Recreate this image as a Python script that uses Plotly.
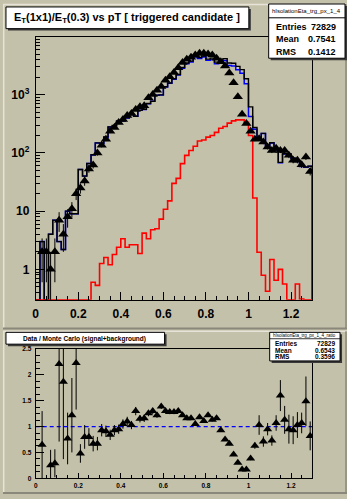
import plotly.graph_objects as go
import numpy as np

W, H = 347, 499

# ---------------- data (65 bins of width 0.02 from 0 to 1.3) ----------------
bin_edges = np.round(np.linspace(0.0, 1.3, 66), 4)
bin_centers = (bin_edges[:-1] + bin_edges[1:]) / 2

data_counts = [0, 2, 2, 1, 2, 7, 4, 8, 11, 20,
               25, 33, 53, 62, 100, 136, 172, 235, 275, 335,
               375, 440, 475, 557, 625, 650, 890, 1005, 1200, 1380,
               1780, 2030, 2400, 2900, 3580, 4070, 4390, 4800, 5150, 5150,
               5000, 4800, 4220, 3700, 3130, 2360, 1600, 920, 460, 320,
               235, 172, 175, 154, 126, 110, 121, 110, 110, 91,
               75, 75, 63, 85, 48]
data_err = [0, 1.4, 1.4, 1.0, 1.4, 2.6, 2.0, 2.8, 3.3, 4.5,
            5.0, 5.7, 7.3, 7.9, 10, 11.7, 13.1, 15.3, 16.6, 18.3,
            19.4, 21, 21.8, 23.6, 25, 25.5, 29.8, 31.7, 34.6, 37.1,
            42.2, 45, 49, 53.9, 59.8, 63.8, 66.3, 69.3, 71.8, 71.8,
            70.7, 69.3, 65, 60.8, 55.9, 48.6, 40, 30.3, 21.4, 17.9,
            15.3, 13.1, 13.2, 12.4, 11.2, 10.5, 11, 10.5, 10.5, 9.5,
            8.7, 8.7, 7.9, 9.2, 6.9]
mc_total = [0, 3, 0, 4, 7, 3, 2.2, 10, 9, 9,
            52, 40, 66, 93, 149, 146, 189, 280, 296, 353,
            357, 400, 461, 428, 543, 560, 706, 775, 985, 995,
            1370, 1590, 1880, 2230, 2930, 3510, 3780, 4570, 4360, 4640,
            4100, 4250, 3640, 3980, 4170, 3520, 3480, 3070, 2700, 1880,
            620, 273, 170, 217, 133, 150, 113, 69, 97, 96,
            81, 73, 59, 57, 59]
mc_background = [0, 0, 0, 0, 0, 0, 0, 0, 0, 0,
                 0, 0, 0, 0.6, 0.53, 1.26, 1.6, 1.2, 1.8, 2.4,
                 3.35, 2.4, 2.65, 2.65, 1.87, 4.2, 3.35, 4.8, 5.0, 7.3,
                 10.8, 15, 30, 36.6, 65.5, 91, 110, 130, 160, 167,
                 187, 199, 226, 265, 285, 325, 355, 370, 370, 335,
                 199, 16.8, 1.97, 0.79, 0.42, 1.48, 0.65, 1.0, 0.56, 0,
                 0, 0.56, 0.31, 0, 0]
mc_signal = [0, 3, 0, 4, 7, 3, 2.2, 10, 9, 9,
             52, 40, 66, 92, 148, 145, 187, 279, 294, 351,
             354, 398, 458, 425, 541, 556, 703, 770, 980, 988,
             1359, 1575, 1850, 2193, 2865, 3419, 3670, 4440, 4200, 4473,
             3913, 4051, 3414, 3715, 3885, 3195, 3125, 2700, 2330, 1545,
             421, 256, 168, 216, 132.6, 148.5, 112.3, 68, 96.4, 96,
             81, 72.4, 58.7, 57, 59]
ratio = [None, 0.65, None, 0.25, 0.29, 2.21, 1.87, 0.77, 1.22, 2.23,
         0.48, 0.80, 0.80, 0.67, 0.67, 0.93, 0.91, 0.84, 0.93, 0.95,
         1.05, 1.10, 1.03, 1.30, 1.15, 1.16, 1.26, 1.30, 1.22, 1.39,
         1.30, 1.28, 1.28, 1.30, 1.22, 1.16, 1.16, 1.05, 1.18, 1.11,
         1.22, 1.13, 1.16, 0.93, 0.75, 0.67, 0.46, 0.30, 0.17, 0.17,
         0.38, 0.63, 1.03, 0.71, 0.95, 0.73, 1.07, 1.60, 1.13, 0.95,
         0.93, 1.03, 1.07, 1.49, 0.82]
ratio_err = [0, 0.65, 0, 0.30, 0.27, 1.5, 1.5, 0.5, 0.72, 0.9,
             0.18, 0.23, 0.17, 0.15, 0.13, 0.12, 0.11, 0.10, 0.10, 0.09,
             0.09, 0.09, 0.08, 0.08, 0.07, 0.07, 0.06, 0.06, 0.05, 0.05,
             0.05, 0.04, 0.04, 0.04, 0.03, 0.03, 0.03, 0.03, 0.03, 0.03,
             0.03, 0.03, 0.03, 0.03, 0.03, 0.03, 0.02, 0.02, 0.02, 0.02,
             0.03, 0.06, 0.19, 0.10, 0.12, 0.10, 0.15, 0.30, 0.27, 0.28,
             0.27, 0.25, 0.20, 0.48, 0.28]

x_tickvals = [0, 0.2, 0.4, 0.6, 0.8, 1.0, 1.2]
x_ticktext = ["0", "0.2", "0.4", "0.6", "0.8", "1", "1.2"]
ytop_tickvals = [1, 10, 100, 1000]
ytop_ticktext = ["1", "10", "10<sup>2</sup>", "10<sup>3</sup>"]
ytop_minor = [v * d for d in (0.1, 1, 10, 100, 1000) for v in range(2, 10)]
ybot_tickvals = [0, 0.5, 1, 1.5, 2, 2.5]
ybot_ticktext = ["0", "0.5", "1", "1.5", "2", "2.5"]

stats_top = [("Entries", "72829"), ("Mean", "0.7541"), ("RMS", "0.1412")]
stats_bot = [("Entries", "72829"), ("Mean", "0.6543"), ("RMS", "0.3596")]

YMIN, YMAX = 0.3, 1.0e4

# ---------------- helpers ----------------
def fx(x):
    return x / W

def fy(y):
    return 1 - y / H

def step_xy(vals, floor):
    v = [max(a, floor) for a in vals]
    xs = [bin_edges[0]] + list(bin_edges[:-1]) + [bin_edges[-1], bin_edges[-1]]
    ys = [floor] + v + [v[-1], floor]
    return xs, ys

BG = "#C4C1AA"
FONT = "Liberation Sans"

fig = go.Figure()

# MC histograms (top pad): signal (blue) under total (black), background (red)
for vals, col, lw in ((mc_signal, "#0000FF", 1.5), (mc_total, "black", 1.4), (mc_background, "#FF0000", 1.6)):
    xs, ys = step_xy(vals, YMIN)
    fig.add_trace(go.Scatter(x=xs, y=ys, mode="lines", line=dict(color=col, width=lw, shape="hv"),
                             xaxis="x", yaxis="y", showlegend=False, hoverinfo="skip"))

# data points (top pad)
dv = [v if v > 0 else None for v in data_counts]
dminus = [min(e, v - 1e-3) if v > 0 else 0 for v, e in zip(data_counts, data_err)]
fig.add_trace(go.Scatter(x=bin_centers, y=dv, mode="markers",
                         marker=dict(symbol="triangle-up", size=9, color="black"),
                         error_y=dict(type="data", array=data_err, arrayminus=dminus,
                                      color="black", thickness=1, width=0),
                         xaxis="x", yaxis="y", showlegend=False))

# ratio pad
fig.add_trace(go.Scatter(x=[bin_edges[0], bin_edges[-1]], y=[1, 1], mode="lines",
                         line=dict(color="#0000FF", width=1.2, dash="4px,3px"),
                         xaxis="x2", yaxis="y2", showlegend=False, hoverinfo="skip"))
fig.add_trace(go.Scatter(x=bin_centers, y=ratio, mode="markers",
                         marker=dict(symbol="triangle-up", size=8, color="black"),
                         error_y=dict(type="data", array=ratio_err, color="black", thickness=1, width=0),
                         xaxis="x2", yaxis="y2", showlegend=False))

axis_common = dict(showline=True, linecolor="black", linewidth=1, mirror=True, showgrid=False,
                   zeroline=False, ticks="inside", tickcolor="black", tickwidth=1)

fig.update_layout(
    width=W, height=H, margin=dict(l=0, r=0, t=0, b=0),
    paper_bgcolor=BG, plot_bgcolor=BG,
    font=dict(family=FONT, color="black"),
    xaxis=dict(domain=[fx(33), fx(312)], range=[0, 1.3], anchor="y",
               tickvals=x_tickvals, ticktext=x_ticktext, ticklen=8,
               tickfont=dict(size=12, family=FONT, weight="bold"), ticklabelstandoff=3,
               minor=dict(dtick=0.05, tick0=0, ticks="inside", ticklen=4, tickcolor="black"),
               **axis_common),
    yaxis=dict(domain=[fy(300), fy(33)], type="log", range=[np.log10(YMIN), np.log10(YMAX)], anchor="x",
               tickvals=ytop_tickvals, ticktext=ytop_ticktext, ticklen=9,
               tickfont=dict(size=12, family=FONT, weight="bold"), ticklabelstandoff=3,
               minor=dict(tickmode="array", tickvals=ytop_minor, ticks="inside", ticklen=4, tickcolor="black"),
               **axis_common),
    xaxis2=dict(domain=[fx(33), fx(312)], range=[0, 1.3], anchor="y2",
                tickvals=x_tickvals, ticktext=x_ticktext, ticklen=5,
                tickfont=dict(size=6.5, family=FONT, weight="bold"), ticklabelstandoff=1,
                minor=dict(dtick=0.05, tick0=0, ticks="inside", ticklen=3, tickcolor="black"),
                **axis_common),
    yaxis2=dict(domain=[fy(481), fy(350)], range=[0, 2.5], anchor="x2",
                tickvals=ybot_tickvals, ticktext=ybot_ticktext, ticklen=8,
                tickfont=dict(size=6.5, family=FONT, weight="bold"), ticklabelstandoff=2,
                minor=dict(dtick=0.125, tick0=0, ticks="inside", ticklen=4, tickcolor="black"),
                **axis_common),
)

shapes = []
annotations = []

def rect(x0, y0, x1, y1, fill=None, line=None, lw=1, layer="above"):
    shapes.append(dict(type="rect", xref="paper", yref="paper", x0=fx(x0), x1=fx(x1), y0=fy(y1), y1=fy(y0),
                       fillcolor=fill if fill else "rgba(0,0,0,0)",
                       line=dict(color=line if line else "rgba(0,0,0,0)", width=lw if line else 0),
                       layer=layer))

def hline(x0, x1, y, color, lw=1):
    shapes.append(dict(type="line", xref="paper", yref="paper", x0=fx(x0), x1=fx(x1), y0=fy(y), y1=fy(y),
                       line=dict(color=color, width=lw)))

def vline(x, y0, y1, color, lw=1):
    shapes.append(dict(type="line", xref="paper", yref="paper", x0=fx(x), x1=fx(x), y0=fy(y0), y1=fy(y1),
                       line=dict(color=color, width=lw)))

def text(x, y, s, size, anchor="left", bold=True):
    annotations.append(dict(xref="paper", yref="paper", x=fx(x), y=fy(y), text=s, showarrow=False,
                            xanchor=anchor, yanchor="middle", borderpad=0,
                            font=dict(size=size, family=FONT, color="black", weight="bold" if bold else "normal")))

# pad bevels
hline(0, 347, 0.5, "#E6E4D8", 1.5)
vline(0.7, 0, 329, "#E6E4D8", 1.5)
hline(0, 347, 329, "#8A887A", 2)
vline(346, 0, 329, "#8A887A", 1.5)
hline(0, 347, 332, "#E6E4D8", 1.5)
vline(0.7, 332, 496, "#E6E4D8", 1.5)
hline(0, 347, 496, "#8A887A", 2)
vline(346, 332, 496, "#8A887A", 1.5)

# top title box
rect(5, 5, 250, 27, fill="#3A3A3A")
rect(3, 3, 248, 25, fill="white", line="black", lw=1)
annotations.append(dict(xref="paper", yref="paper", x=fx(125), y=fy(14), showarrow=False,
                        xanchor="center", yanchor="middle",
                        text="E<sub>T</sub>(1x1)/E<sub>T</sub>(0.3) vs pT [ triggered candidate ]",
                        font=dict(size=11, family=FONT, color="black", weight="bold")))

# top stats box
rect(270, 2, 347, 57, fill="#3A3A3A")
rect(268, 0, 345, 55, fill="white", line="black", lw=1)
hline(268, 345, 14, "black", 1)
text(306, 7.5, "hIsolationEta_trg_px_1_4", 6, anchor="center", bold=False)
for i, (lab, val) in enumerate(stats_top):
    yy = 23 + 13 * i
    text(274, yy, lab, 9, "left")
    text(337, yy, val, 9, "right")

# bottom title box
rect(5, 335, 165, 347, fill="#3A3A3A")
rect(3, 333, 163, 345, fill="white", line="black", lw=1)
text(82, 339.5, "Data / Monte Carlo (signal+background)", 6.5, anchor="center")

# bottom stats box
rect(271, 335, 342, 364, fill="#3A3A3A")
rect(269, 333, 340, 362, fill="white", line="black", lw=1)
hline(269, 340, 339.5, "black", 0.8)
text(304.5, 336.5, "hIsolationEta_trg_px_1_4_ratio", 4.5, anchor="center", bold=False)
for i, (lab, val) in enumerate(stats_bot):
    yy = 344 + 7 * i
    text(273, yy, lab, 6.5, "left")
    text(336, yy, val, 6.5, "right")

fig.update_layout(shapes=shapes, annotations=annotations)
fig.write_html("out.html")
